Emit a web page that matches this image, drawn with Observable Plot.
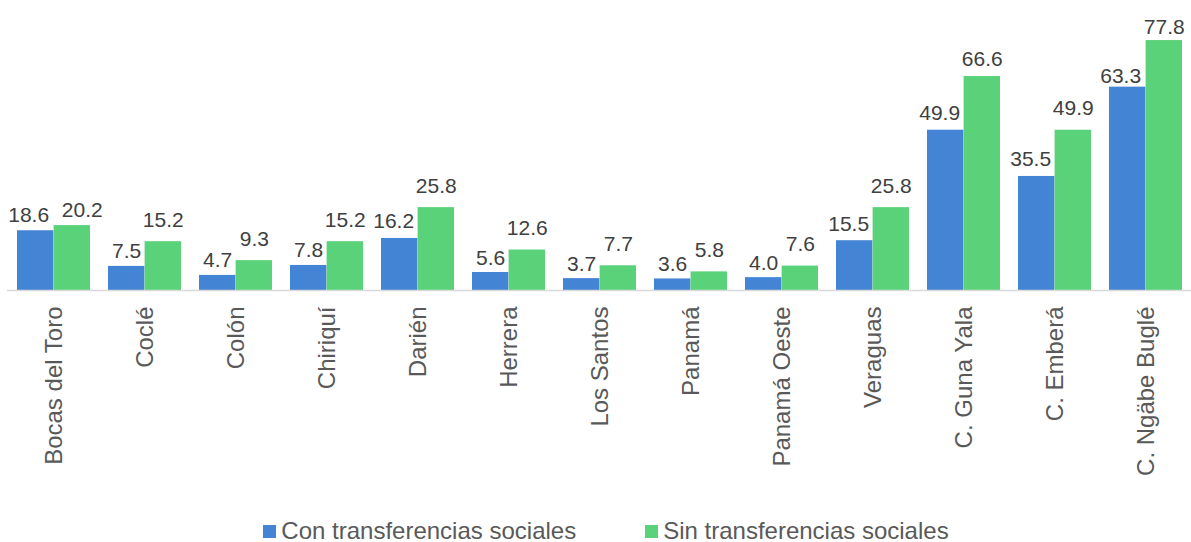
<!DOCTYPE html>
<html>
<head>
<meta charset="utf-8">
<script src="https://cdn.jsdelivr.net/npm/d3@7"></script>
<script src="https://cdn.jsdelivr.net/npm/@observablehq/plot@0.6"></script>
<style>
  html, body { margin: 0; padding: 0; background: #fff; }
  body { width: 1191px; height: 542px; position: relative; overflow: hidden; font-family: "Liberation Sans", Arial, sans-serif; }
  #legend { position: absolute; left: 0; top: 520px; width: 1191px; height: 22px; line-height: 22px; display: flex; justify-content: center; align-items: center; padding-left: 21px; box-sizing: border-box; font-size: 24px; color: #595959; }
  .item { display: flex; align-items: center; }
  .sw { width: 13px; height: 13px; margin-right: 5px; display: inline-block; }
</style>
</head>
<body>
<div id="chart"></div>
<div id="legend"></div>
<script>
const categories = ["Bocas del Toro", "Coclé", "Colón", "Chiriquí", "Darién", "Herrera", "Los Santos", "Panamá", "Panamá Oeste", "Veraguas", "C. Guna Yala", "C. Emberá", "C. Ngäbe Buglé"];
const conValues = [18.6, 7.5, 4.7, 7.8, 16.2, 5.6, 3.7, 3.6, 4.0, 15.5, 49.9, 35.5, 63.3];
const sinValues = [20.2, 15.2, 9.3, 15.2, 25.8, 12.6, 7.7, 5.8, 7.6, 25.8, 66.6, 49.9, 77.8];
const seriesNames = ["Con transferencias sociales", "Sin transferencias sociales"];
const seriesColors = ["#4484D4", "#5AD27A"];

const con = categories.map((c, i) => ({cat: c, v: conValues[i]}));
const sin = categories.map((c, i) => ({cat: c, v: sinValues[i]}));

const W = 1191, H = 510, ML = 7, MR = 0;
const pIn = 0.2, pOut = 0.07;
const step = (W - ML - MR) / (categories.length - pIn + 2 * pOut);
const bw = step * (1 - pIn);
const half = bw / 2;

const fmt = d => d.toFixed(1);
const first = categories[0];
const last = categories[categories.length - 1];
const mid = d => d.cat !== first && d.cat !== last;

const label = {x: "cat", y: "v", text: d => fmt(d.v), fontSize: 21, fill: "#404040", lineAnchor: "bottom"};
const conDx = -half / 2;
const sinDx = half / 2;

const chart = Plot.plot({
  width: W, height: H,
  marginLeft: ML, marginRight: MR, marginTop: 33, marginBottom: 220,
  style: {fontFamily: '"Liberation Sans", Arial, sans-serif', background: "#fff"},
  x: {domain: categories, paddingInner: pIn, paddingOuter: pOut, axis: null},
  y: {domain: [0, 80], axis: null},
  marks: [
    Plot.barY(con, {x: "cat", y: "v", fill: seriesColors[0], insetRight: half, insetLeft: 0}),
    Plot.barY(sin, {x: "cat", y: "v", fill: seriesColors[1], insetLeft: half, insetRight: 0}),
    Plot.ruleY([0], {stroke: "#D9D9D9", strokeWidth: 1.5}),
    // Con transferencias labels
    Plot.text(con.filter(d => mid(d) && d.v < 10), {...label, dx: conDx, dy: -8}),
    Plot.text(con.filter(d => mid(d) && d.v >= 10), {...label, dx: conDx - 6, dy: -10}),
    Plot.text(con.filter(d => d.cat === first), {...label, dx: conDx - 7, dy: -9}),
    Plot.text(con.filter(d => d.cat === last), {...label, dx: conDx - 7, dy: -4}),
    // Sin transferencias labels
    Plot.text(sin.filter(d => mid(d) && d.v < 60), {...label, dx: sinDx, dy: -15}),
    Plot.text(sin.filter(d => mid(d) && d.v >= 60), {...label, dx: sinDx, dy: -11}),
    Plot.text(sin.filter(d => d.cat === first), {...label, dx: sinDx + 10, dy: -9}),
    Plot.text(sin.filter(d => d.cat === last), {...label, dx: sinDx, dy: -7}),
    Plot.axisX({tickRotate: -90, tickSize: 0, tickPadding: 16, fontSize: 24, fill: "#595959", label: null})
  ]
});
document.getElementById("chart").appendChild(chart);

const legend = document.getElementById("legend");
seriesNames.forEach((name, i) => {
  const item = document.createElement("div");
  item.className = "item";
  if (i > 0) item.style.marginLeft = "69px";
  const sw = document.createElement("span");
  sw.className = "sw";
  sw.style.background = seriesColors[i];
  const t = document.createElement("span");
  t.textContent = name;
  item.appendChild(sw);
  item.appendChild(t);
  legend.appendChild(item);
});
</script>
</body>
</html>
